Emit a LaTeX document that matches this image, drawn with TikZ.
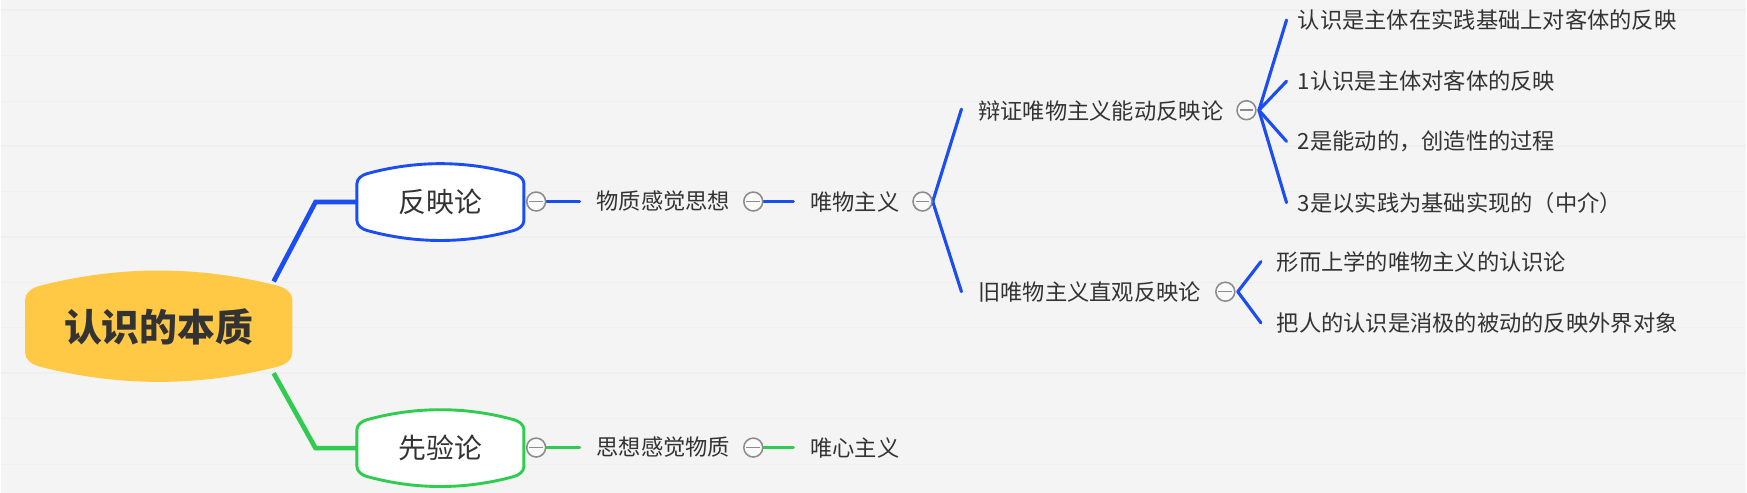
\documentclass[tikz,border=0pt]{standalone}
\usepackage{fontspec}
\setmainfont{Noto Sans CJK SC}
\definecolor{bg}{HTML}{F4F4F4}
\definecolor{stripe}{HTML}{EFEFEF}
\definecolor{bl}{HTML}{1A4DF2}
\definecolor{gr}{HTML}{30CC50}
\definecolor{yel}{HTML}{FFC845}
\definecolor{txt}{HTML}{333333}
\definecolor{cg}{HTML}{8C8C8C}
\pgfdeclarelayer{back}
\pgfdeclarelayer{lines}
\pgfsetlayers{back,lines,main}
% #1 style, #2 x1, #3 x2, #4 ytop, #5 ybot, #6 bulge, #7 radius
\newcommand\bshape[7]{%
  \pgfmathsetmacro\bsL{#3-#2-2*#7}%
  \pgfmathsetmacro\bsS{4*#6/\bsL}%
  \pgfmathsetmacro\bsK{0.5*#7}%
  \path[#1] (#2,{#4+#6+#7})
    .. controls (#2,{#4+#6+#7-\bsK}) and ({#2+#7-\bsK},{#4+#6+\bsK*\bsS}) .. ({#2+#7},{#4+#6})
    .. controls ({#2+#7+\bsL/3},{#4-#6/3}) and ({#3-#7-\bsL/3},{#4-#6/3}) .. ({#3-#7},{#4+#6})
    .. controls ({#3-#7+\bsK},{#4+#6+\bsK*\bsS}) and (#3,{#4+#6+#7-\bsK}) .. (#3,{#4+#6+#7})
    -- (#3,{#5-#6-#7})
    .. controls (#3,{#5-#6-#7+\bsK}) and ({#3-#7+\bsK},{#5-#6-\bsK*\bsS}) .. ({#3-#7},{#5-#6})
    .. controls ({#3-#7-\bsL/3},{#5+#6/3}) and ({#2+#7+\bsL/3},{#5+#6/3}) .. ({#2+#7},{#5-#6})
    .. controls ({#2+#7-\bsK},{#5-#6-\bsK*\bsS}) and (#2,{#5-#6-#7+\bsK}) .. (#2,{#5-#6-#7}) -- cycle;}
\newcommand\collapse[3]{%
  \node[coll] (#1) at (#2,#3) {};
  \draw[cg, line width=1.4pt] ([xshift=3pt]#1.west) -- ([xshift=-3pt]#1.east);}
\begin{document}
\begin{tikzpicture}[x=1pt,y=-1pt,
  lbl/.style={anchor=west, inner sep=0pt, font=\fontsize{20}{24}\selectfont, text=txt},
  topic/.style={minimum width=150pt, minimum height=69pt, inner sep=0pt, font=\fontsize{25}{30}\selectfont, text=txt},
  coll/.style={circle, draw=cg, line width=1.4pt, fill=white!55!bg, minimum size=17pt, inner sep=0pt},
  mainb/.style={line width=4.2pt, line join=miter},
  subb/.style={line width=2.8pt, line cap=round},
  bluec/.style={draw=bl},
  greenc/.style={draw=gr}]
\begin{pgfonlayer}{back}
  \fill[bg] (0,0) rectangle (1568,442.5);
  \foreach \yy in {9,50,91,131,172,213,254,294,335,376,417}
    \draw[stripe, line width=1.2pt] (0,\yy) -- (1568,\yy);
\end{pgfonlayer}
\useasboundingbox (0,0) rectangle (1568,442.5);

% shapes
\bshape{fill=yel}{22}{262}{243}{343}{14}{12}
\bshape{draw=bl, line width=2.6pt, fill=white}{320}{470}{147}{216}{9}{9}
\bshape{draw=gr, line width=2.6pt, fill=white}{320}{470}{368}{437}{9}{9}

% root and topics
\node[minimum width=240pt, minimum height=100pt, inner sep=0pt, text=txt,
      font=\fontsize{34}{40}\selectfont\bfseries] (root) at (142,294) {认识的本质};
\node[topic] (fy) at (395,181.5) {反映论};
\node[topic] (xy) at (395,402.5) {先验论};

% level texts
\node[lbl] (t1) at (535,181) {物质感觉思想};
\node[lbl] (t2) at (727,181) {唯物主义};
\node[lbl] (t3) at (878,100) {辩证唯物主义能动反映论};
\node[lbl] (t4) at (878,262) {旧唯物主义直观反映论};
\node[lbl] (k1) at (1165,18) {认识是主体在实践基础上对客体的反映};
\node[lbl] (k2) at (1165,73) {1认识是主体对客体的反映};
\node[lbl] (k3) at (1165,127) {2是能动的，创造性的过程};
\node[lbl] (k4) at (1165,182) {3是以实践为基础实现的（中介）};
\node[lbl] (k5) at (1146,235) {形而上学的唯物主义的认识论};
\node[lbl] (k6) at (1146,290) {把人的认识是消极的被动的反映外界对象};
\node[lbl] (t5) at (535,402) {思想感觉物质};
\node[lbl] (t6) at (727,402) {唯心主义};

% collapse markers
\collapse{c1}{481}{181}
\collapse{c2}{676}{181}
\collapse{c3}{828}{181}
\collapse{c4}{1119}{99}
\collapse{c5}{1100}{262}
\collapse{c6}{481}{402}
\collapse{c7}{676}{402}

\begin{pgfonlayer}{lines}
  \draw[mainb, bluec] ([xshift=-17pt,yshift=-9pt]root.north east) -- ([xshift=-37pt]fy.west) -- (fy.west);
  \draw[mainb, greenc] ([xshift=-17pt,yshift=9pt]root.south east) -- ([xshift=-37pt]xy.west) -- (xy.west);
  \draw[subb, bluec] (c1.center) -- ([xshift=-15pt]t1.west);
  \draw[subb, bluec] (c2.center) -- ([xshift=-15pt]t2.west);
  \draw[subb, bluec] (c3.east) -- ([xshift=-15pt,yshift=2pt]t3.west);
  \draw[subb, bluec] (c3.east) -- ([xshift=-15pt]t4.west);
  \foreach \k in {k1,k2,k3,k4}
    \draw[subb, bluec] ([xshift=2pt]c4.east) -- ([xshift=-10pt]\k.west);
  \foreach \k in {k5,k6}
    \draw[subb, bluec] ([xshift=2pt]c5.east) -- ([xshift=-14pt]\k.west);
  \draw[subb, greenc] (c6.center) -- ([xshift=-15pt]t5.west);
  \draw[subb, greenc] (c7.center) -- ([xshift=-15pt]t6.west);
\end{pgfonlayer}
\end{tikzpicture}
\end{document}
